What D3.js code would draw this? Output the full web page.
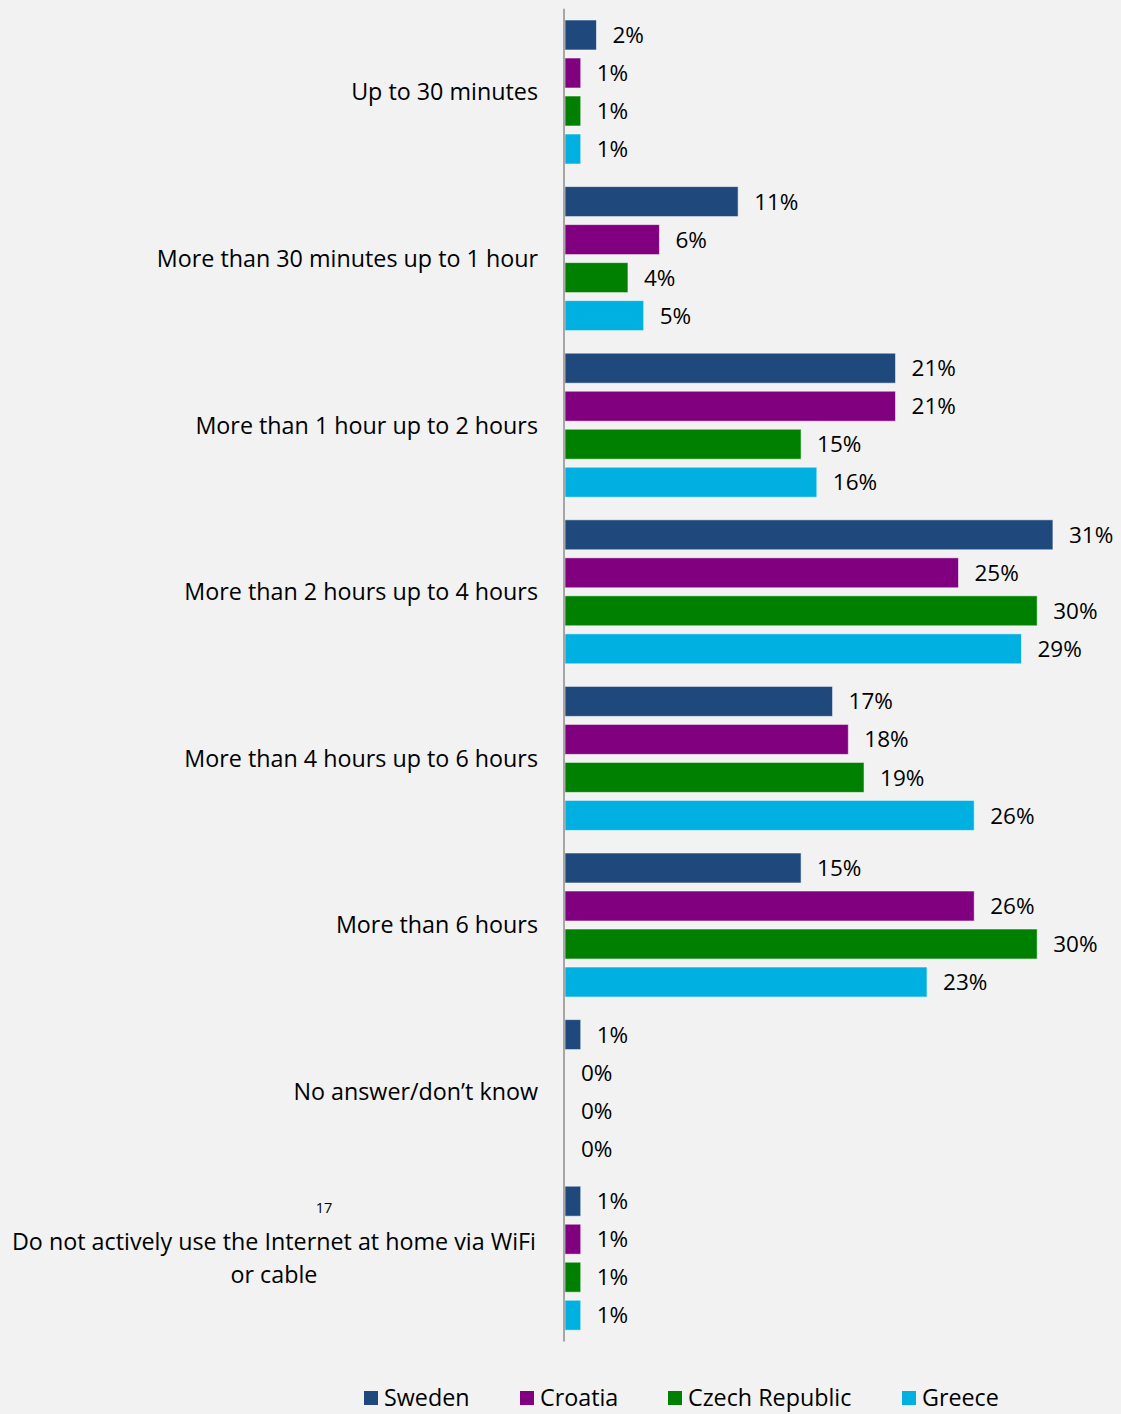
<!DOCTYPE html>
<html>
<head>
<meta charset="utf-8">
<script src="https://cdn.jsdelivr.net/npm/d3@7/dist/d3.min.js"></script>
<style>
  html, body { margin: 0; padding: 0; background: #f2f2f2; }
  svg { display: block; }
  text { font-family: "Open Sans", Lato, sans-serif; fill: #000; }
</style>
</head>
<body>
<svg id="chart" width="1121" height="1414"></svg>
<script>
// Time spent using the Internet at home, share of respondents per country
const categories = [
  "Up to 30 minutes",
  "More than 30 minutes up to 1 hour",
  "More than 1 hour up to 2 hours",
  "More than 2 hours up to 4 hours",
  "More than 4 hours up to 6 hours",
  "More than 6 hours",
  "No answer/don\u2019t know",
  "Do not actively use the Internet at home via WiFi or cable"
];
const seriesNames = ["Sweden", "Croatia", "Czech Republic", "Greece"];
const seriesColors = ["#1f497d", "#800080", "#008000", "#00b0e0"];

const sweden  = [2, 11, 21, 31, 17, 15, 1, 1];
const croatia = [1, 6, 21, 25, 18, 26, 0, 1];
const czech   = [1, 4, 15, 30, 19, 30, 0, 1];
const greece  = [1, 5, 16, 29, 26, 23, 0, 1];
const seriesValues = [sweden, croatia, czech, greece];

// Wrapped lines for long category labels
const labelLines = {
  "Do not actively use the Internet at home via WiFi or cable":
    ["Do not actively use the Internet at home via WiFi", "or cable"]
};

const LABEL_SIZE = 23.3;
const VALUE_SIZE = 22.5;

const svg = d3.select("#chart");

const x = d3.scaleLinear().domain([0, 35]).range([565, 565 + 35 * 15.74]);
const y = d3.scaleBand().domain(categories).range([8.7, 1341.5]).paddingInner(0).paddingOuter(0);
const ySub = d3.scaleBand().domain(seriesNames)
  .range([0, y.bandwidth()])
  .paddingInner(8 / 38)
  .paddingOuter(0.297);

const rows = [];
categories.forEach((c, i) => {
  seriesNames.forEach((s, j) => {
    rows.push({ cat: c, series: s, value: seriesValues[j][i], color: seriesColors[j] });
  });
});

const groups = svg.append("g");

groups.selectAll("rect.bar")
  .data(rows.filter(d => d.value > 0))
  .join("rect")
  .attr("class", "bar")
  .attr("x", x(0))
  .attr("y", d => y(d.cat) + ySub(d.series))
  .attr("width", d => x(d.value) - x(0))
  .attr("height", ySub.bandwidth())
  .attr("fill", d => d.color)
  .attr("stroke", "rgba(255,255,255,0.55)")
  .attr("stroke-width", 1);

groups.selectAll("text.val")
  .data(rows)
  .join("text")
  .attr("class", "val")
  .attr("x", d => x(d.value) + 16)
  .attr("y", d => y(d.cat) + ySub(d.series) + ySub.bandwidth() / 2)
  .attr("dy", "0.36em")
  .attr("font-size", VALUE_SIZE)
  .text(d => d.value + "%");

// Category axis: vertical line and labels on the left
svg.append("line")
  .attr("x1", x(0) - 1).attr("x2", x(0) - 1)
  .attr("y1", y.range()[0]).attr("y2", y.range()[1])
  .attr("stroke", "#a6a6a6")
  .attr("stroke-width", 2);

const catLabels = svg.append("g");
categories.forEach(c => {
  const lines = labelLines[c] || [c];
  const cy = y(c) + y.bandwidth() / 2;
  const lh = 33;
  const t = catLabels.append("text")
    .attr("font-size", LABEL_SIZE)
    .attr("text-anchor", lines.length > 1 ? "middle" : "end");
  if (lines.length === 1) {
    t.attr("x", 538).attr("y", cy).attr("dy", "0.36em").text(c);
  } else {
    lines.forEach((ln, k) => {
      t.append("tspan")
        .attr("x", 274)
        .attr("y", cy + (k - (lines.length - 1) / 2) * lh)
        .attr("dy", "0.36em")
        .text(ln);
    });
  }
});

// Footnote marker
svg.append("text")
  .attr("x", 324).attr("y", 1208)
  .attr("dy", "0.36em")
  .attr("text-anchor", "middle")
  .attr("font-size", 14.5)
  .text("17");

// Legend along the bottom edge
const legendX = [364, 520, 668, 902];
const legendY = 1398;
const legend = svg.append("g");
seriesNames.forEach((s, j) => {
  legend.append("rect")
    .attr("x", legendX[j]).attr("y", legendY - 7)
    .attr("width", 14).attr("height", 14)
    .attr("fill", seriesColors[j]);
  legend.append("text")
    .attr("x", legendX[j] + 20).attr("y", legendY)
    .attr("dy", "0.36em")
    .attr("font-size", LABEL_SIZE)
    .text(s);
});
</script>
</body>
</html>
